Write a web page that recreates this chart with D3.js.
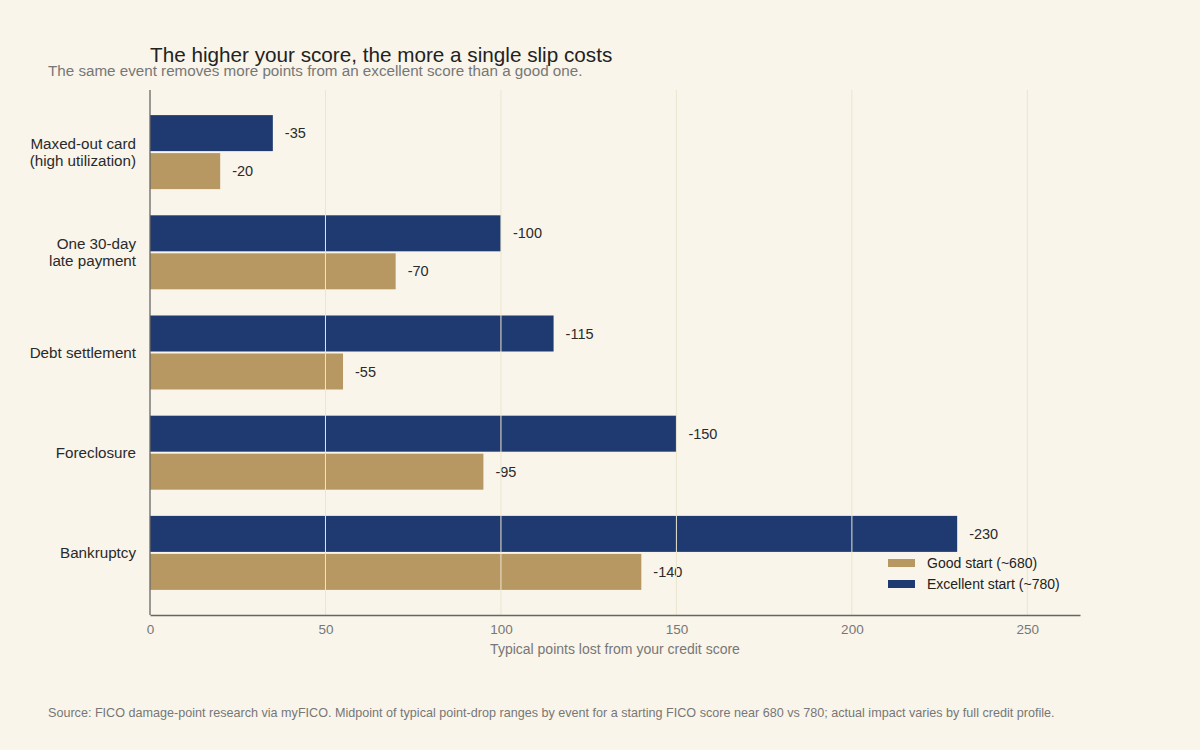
<!DOCTYPE html>
<html>
<head>
<meta charset="utf-8">
<script src="https://cdn.jsdelivr.net/npm/d3@7"></script>
<style>
  body { margin: 0; background: #f9f5ea; }
  text { font-family: "Liberation Sans", Arial, sans-serif; }
</style>
</head>
<body>
<div id="chart"></div>
<script>
// data
var events = ["Maxed-out card\n(high utilization)", "One 30-day\nlate payment", "Debt settlement", "Foreclosure", "Bankruptcy"];
var goodStart = [20, 70, 55, 95, 140];
var excellentStart = [35, 100, 115, 150, 230];
var xTicks = [0, 50, 100, 150, 200, 250];

var W = 1200, H = 750;
var margin = {top: 90, left: 150, right: 120, bottom: 135};
var width = W - margin.left - margin.right,
    height = H - margin.top - margin.bottom;

var svg = d3.select("#chart").append("svg")
    .attr("width", W).attr("height", H)
    .style("background", "#f9f5ea");

var g = svg.append("g")
    .attr("transform", "translate(" + margin.left + "," + margin.top + ")");

var x = d3.scaleLinear().domain([0, 265]).range([0, width]);
var y = d3.scaleLinear().domain([-0.62, events.length - 0.38]).range([0, height]);
var barH = 36, gap = 2;

// bars
var rows = g.selectAll(".row").data(events).enter().append("g")
    .attr("class", "row");

rows.append("rect")
    .attr("x", 0)
    .attr("y", function(d, i) { return y(i) - barH - gap / 2; })
    .attr("width", function(d, i) { return x(excellentStart[i]); })
    .attr("height", barH)
    .attr("fill", "#1f3a70");

rows.append("rect")
    .attr("x", 0)
    .attr("y", function(d, i) { return y(i) + gap / 2; })
    .attr("width", function(d, i) { return x(goodStart[i]); })
    .attr("height", barH)
    .attr("fill", "#b89862");

// grid lines drawn on top of the bars
g.selectAll(".grid").data(xTicks.slice(1)).enter().append("line")
    .attr("x1", function(d) { return x(d); })
    .attr("x2", function(d) { return x(d); })
    .attr("y1", 0).attr("y2", height)
    .attr("stroke", "#ebe6cf")
    .attr("stroke-width", 1);

// value labels
rows.append("text")
    .attr("x", function(d, i) { return x(excellentStart[i]) + 12; })
    .attr("y", function(d, i) { return y(i) - barH / 2 - gap / 2; })
    .attr("dy", "0.35em")
    .attr("font-size", 14.5).attr("fill", "#2a2a2a")
    .text(function(d, i) { return "-" + excellentStart[i]; });

rows.append("text")
    .attr("x", function(d, i) { return x(goodStart[i]) + 12; })
    .attr("y", function(d, i) { return y(i) + barH / 2 + gap / 2; })
    .attr("dy", "0.35em")
    .attr("font-size", 14.5).attr("fill", "#2a2a2a")
    .text(function(d, i) { return "-" + goodStart[i]; });

// category labels
rows.each(function(d, i) {
  var lines = d.split("\n");
  var t = d3.select(this).append("text")
      .attr("text-anchor", "end")
      .attr("font-size", 15.2).attr("fill", "#2a2a2a");
  lines.forEach(function(l, k) {
    t.append("tspan")
      .attr("x", -14)
      .attr("y", y(i) + (k - (lines.length - 1) / 2) * 17)
      .attr("dy", "0.35em")
      .text(l);
  });
});

// axes
var xAxis = g.append("g")
    .attr("transform", "translate(0," + height + ")")
    .call(d3.axisBottom(x).tickValues(xTicks).tickSize(0).tickPadding(9));
xAxis.select(".domain").attr("stroke", "#666").attr("stroke-width", 1.3);
xAxis.selectAll("text").attr("font-size", 13.5).attr("fill", "#777")
    .style("font-family", "Liberation Sans, Arial, sans-serif");

g.append("line")
    .attr("x1", 0).attr("x2", 0).attr("y1", 0).attr("y2", height)
    .attr("stroke", "#666").attr("stroke-width", 1.3);

g.append("text")
    .attr("x", width / 2).attr("y", height + 39)
    .attr("text-anchor", "middle")
    .attr("font-size", 14).attr("fill", "#777")
    .text("Typical points lost from your credit score");

// title + subtitle
svg.append("text")
    .attr("x", 150).attr("y", 62)
    .attr("font-size", 20.7).attr("fill", "#222")
    .text("The higher your score, the more a single slip costs");
svg.append("text")
    .attr("x", 48).attr("y", 76)
    .attr("font-size", 15.2).attr("fill", "#777")
    .text("The same event removes more points from an excellent score than a good one.");

// legend
var legend = [["Good start (~680)", "#b89862"], ["Excellent start (~780)", "#1f3a70"]];
var lg = svg.append("g").attr("transform", "translate(888,563)");
legend.forEach(function(d, i) {
  lg.append("rect").attr("x", 0).attr("y", i * 21 - 4).attr("width", 27).attr("height", 8).attr("fill", d[1]);
  lg.append("text").attr("x", 39).attr("y", i * 21).attr("dy", "0.35em")
    .attr("font-size", 14).attr("fill", "#222").text(d[0]);
});

// source
svg.append("text")
    .attr("x", 48).attr("y", 717)
    .attr("font-size", 12.6).attr("fill", "#777")
    .text("Source: FICO damage-point research via myFICO. Midpoint of typical point-drop ranges by event for a starting FICO score near 680 vs 780; actual impact varies by full credit profile.");
</script>
</body>
</html>
